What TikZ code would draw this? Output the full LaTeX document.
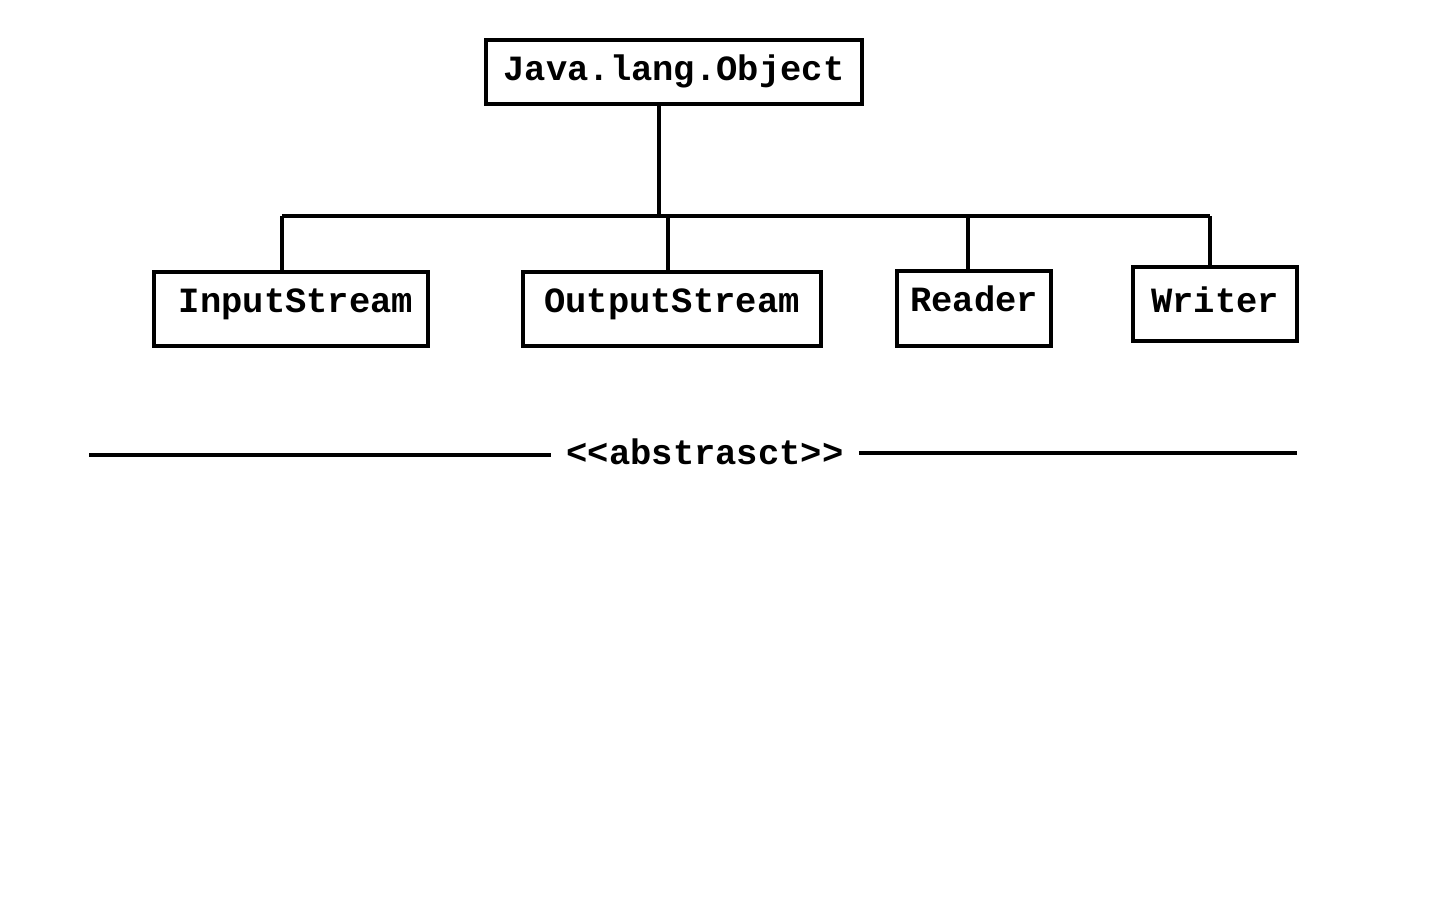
\documentclass[tikz,border=0pt]{standalone}
\usepackage{fontspec}
\setmonofont{Liberation Mono}
\begin{document}
\begin{tikzpicture}[x=0.02cm,y=-0.02cm,
  cls/.style={draw,line width=2.3pt,inner sep=0pt,font=\ttfamily\bfseries\fontsize{20.2}{24}\selectfont},
  hi/.style={text height=0.42cm,text depth=0.08cm},
  lo/.style={text height=0.30cm,text depth=0.18cm},
  wire/.style={line width=2.3pt},
  lbl/.style={inner xsep=0.3cm,inner ysep=0pt,font=\ttfamily\bfseries\fontsize{20.2}{24}\selectfont}]
\useasboundingbox (0,0) rectangle (1440,900);
\node[cls,hi,minimum width=7.52cm,minimum height=1.28cm] (obj) at (674,72) {Java.lang.Object};
\node[cls,lo,minimum width=5.48cm,minimum height=1.48cm] (in) at (291,309) {\hspace{0.2cm}InputStream};
\node[cls,lo,minimum width=5.96cm,minimum height=1.48cm] (out) at (672,309) {OutputStream};
\node[cls,lo,minimum width=3.08cm,minimum height=1.5cm] (rd) at (974,308.5) {Reader};
\node[cls,hi,minimum width=3.28cm,minimum height=1.48cm] (wr) at (1215,304) {Writer};
\coordinate (bus) at (659,216);
\coordinate (busL) at (282,216);
\coordinate (busR) at (1210,216);
\coordinate (dOut) at (668,216);
\coordinate (dRd) at (968,216);
\draw[wire] (bus |- obj.south) -- (bus);
\draw[wire] (busL) -- (busR);
\draw[wire] (busL) -- (busL |- in.north);
\draw[wire] (dOut) -- (dOut |- out.north);
\draw[wire] (dRd) -- (dRd |- rd.north);
\draw[wire] (busR) -- (busR |- wr.north);
\node[lbl] (abs) at (705,452) {<{}<abstrasct>{}>};
\coordinate (al) at (89,455);
\coordinate (ar) at (1297,453);
\draw[wire] (al) -- (al -| abs.west);
\draw[wire] (abs.east |- ar) -- (ar);
\end{tikzpicture}
\end{document}
